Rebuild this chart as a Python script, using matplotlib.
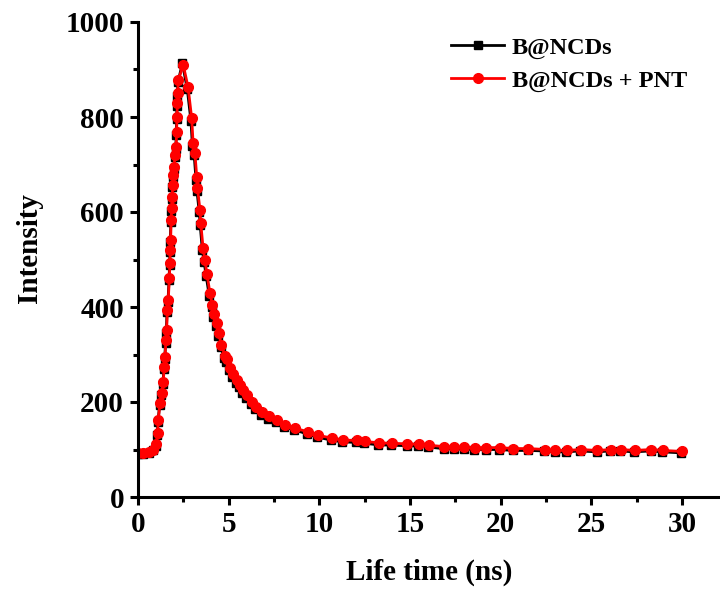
import matplotlib
matplotlib.use("Agg")
import matplotlib.pyplot as plt
from matplotlib.ticker import MultipleLocator

plt.rcParams['font.family'] = ['Liberation Serif', 'DejaVu Serif']
plt.rcParams['font.weight'] = 'bold'

# Life time (ns) and intensity
x_red = [0.0, 0.3, 0.6, 0.85, 1.0, 1.08, 1.12, 1.21, 1.3, 1.4, 1.44, 1.49, 1.54, 1.58,
         1.62, 1.67, 1.73, 1.76, 1.78, 1.8, 1.83, 1.86, 1.89, 1.91, 1.95, 1.99, 2.04,
         2.1, 2.13, 2.15, 2.17, 2.19, 2.22, 2.5, 2.76, 2.96, 3.04, 3.14, 3.24, 3.28,
         3.42, 3.46, 3.59, 3.69, 3.8, 3.97, 4.1, 4.2, 4.34, 4.45, 4.6, 4.8, 4.89, 5.07,
         5.25, 5.44, 5.6, 5.8, 6.0, 6.27, 6.5, 6.82, 7.2, 7.65, 8.1, 8.66, 9.38, 9.93,
         10.68, 11.3, 12.06, 12.53, 13.27, 14.01, 14.85, 15.5, 16.06, 16.89, 17.45,
         18.0, 18.57, 19.22, 19.96, 20.7, 21.53, 22.46, 23.02, 23.67, 24.41, 25.34,
         26.08, 26.64, 27.39, 28.32, 28.96, 29.98]
y_red = [92, 93, 95, 100, 112, 135, 162, 198, 219, 243, 274, 295, 330, 351,
         394, 415, 461, 493, 520, 541, 583, 608, 632, 657, 678, 695, 720,
         737, 768, 800, 829, 850, 878, 909, 863, 798, 745, 724, 674, 650,
         604, 577, 524, 499, 470, 429, 405, 385, 366, 345, 320, 297, 290, 272,
         258, 246, 236, 225, 214, 200, 190, 178, 170, 163, 152, 145, 137, 130,
         124, 120, 119, 117, 114, 113, 112, 111, 109, 106, 105,
         105, 104, 104, 104, 102, 102, 100, 98, 98, 100, 98,
         100, 100, 98, 100, 98, 96]

x_black = [0.0, 0.3, 0.6, 0.85, 1.0, 1.06, 1.1, 1.19, 1.28, 1.38, 1.42, 1.47, 1.52, 1.56,
           1.6, 1.65, 1.71, 1.74, 1.76, 1.78, 1.81, 1.84, 1.87, 1.89, 1.93, 1.97, 2.02,
           2.08, 2.11, 2.13, 2.15, 2.17, 2.2, 2.45, 2.72, 2.92, 3.0, 3.1, 3.2, 3.25,
           3.38, 3.43, 3.55, 3.65, 3.76, 3.93, 4.06, 4.16, 4.3, 4.41, 4.56, 4.76, 4.85, 5.03,
           5.21, 5.4, 5.56, 5.76, 5.96, 6.23, 6.46, 6.78, 7.16, 7.61, 8.06, 8.62, 9.34, 9.89,
           10.64, 11.26, 12.02, 12.49, 13.23, 13.97, 14.81, 15.46, 16.02, 16.85, 17.41,
           17.96, 18.53, 19.18, 19.92, 20.66, 21.49, 22.42, 22.98, 23.63, 24.37, 25.3,
           26.04, 26.6, 27.35, 28.28, 28.92, 29.94]
y_black = [90, 91, 93, 98, 108, 130, 157, 193, 214, 238, 269, 290, 325, 346,
           389, 410, 456, 488, 515, 536, 578, 603, 627, 652, 673, 690, 715,
           732, 763, 795, 824, 845, 873, 913, 858, 792, 740, 719, 668, 645,
           599, 572, 519, 494, 465, 424, 400, 380, 361, 340, 315, 292, 285, 267,
           253, 241, 231, 220, 209, 195, 185, 173, 165, 158, 148, 141, 133, 126,
           120, 116, 115, 113, 110, 109, 108, 107, 105, 102, 101,
           101, 100, 100, 100, 98, 98, 97, 95, 95, 97, 95,
           97, 97, 95, 97, 95, 93]

labels = ['B@NCDs', 'B@NCDs + PNT']

fig = plt.figure(figsize=(7.2, 5.9), dpi=100)
ax = fig.add_axes([138/720, 93/590, 582/720, 475/590])

ax.plot(x_black, y_black, color='black', lw=2, marker='s', ms=6, label=labels[0])
ax.plot(x_red, y_red, color='red', lw=2, marker='o', ms=7, label=labels[1])

ax.set_xlim(0, 32.1)
ax.set_ylim(0, 1000)
ax.spines['top'].set_visible(False)
ax.spines['right'].set_visible(False)
for s in ['left', 'bottom']:
    ax.spines[s].set_linewidth(2.2)

ax.xaxis.set_major_locator(MultipleLocator(5))
ax.xaxis.set_minor_locator(MultipleLocator(2.5))
ax.yaxis.set_major_locator(MultipleLocator(200))
ax.yaxis.set_minor_locator(MultipleLocator(100))
ax.tick_params(which='major', direction='out', length=6, width=2.2, labelsize=21, pad=4)
ax.tick_params(which='minor', direction='out', length=3.5, width=2.2)
for lab in ax.get_xticklabels() + ax.get_yticklabels():
    lab.set_fontweight('bold')

ax.set_xlabel('Life time (ns)', fontsize=21, fontweight='bold', labelpad=15)
ax.set_ylabel('Intensity', fontsize=21, fontweight='bold', labelpad=16)
ax.yaxis.label.set_y(0.524)

leg = ax.legend(loc='upper left', bbox_to_anchor=(0.5, 1.015), frameon=False,
                prop={'size': 17.5, 'weight': 'bold'}, handlelength=2.2,
                handletextpad=0.3, labelspacing=0.45)

fig.savefig('out.png', dpi=100)
